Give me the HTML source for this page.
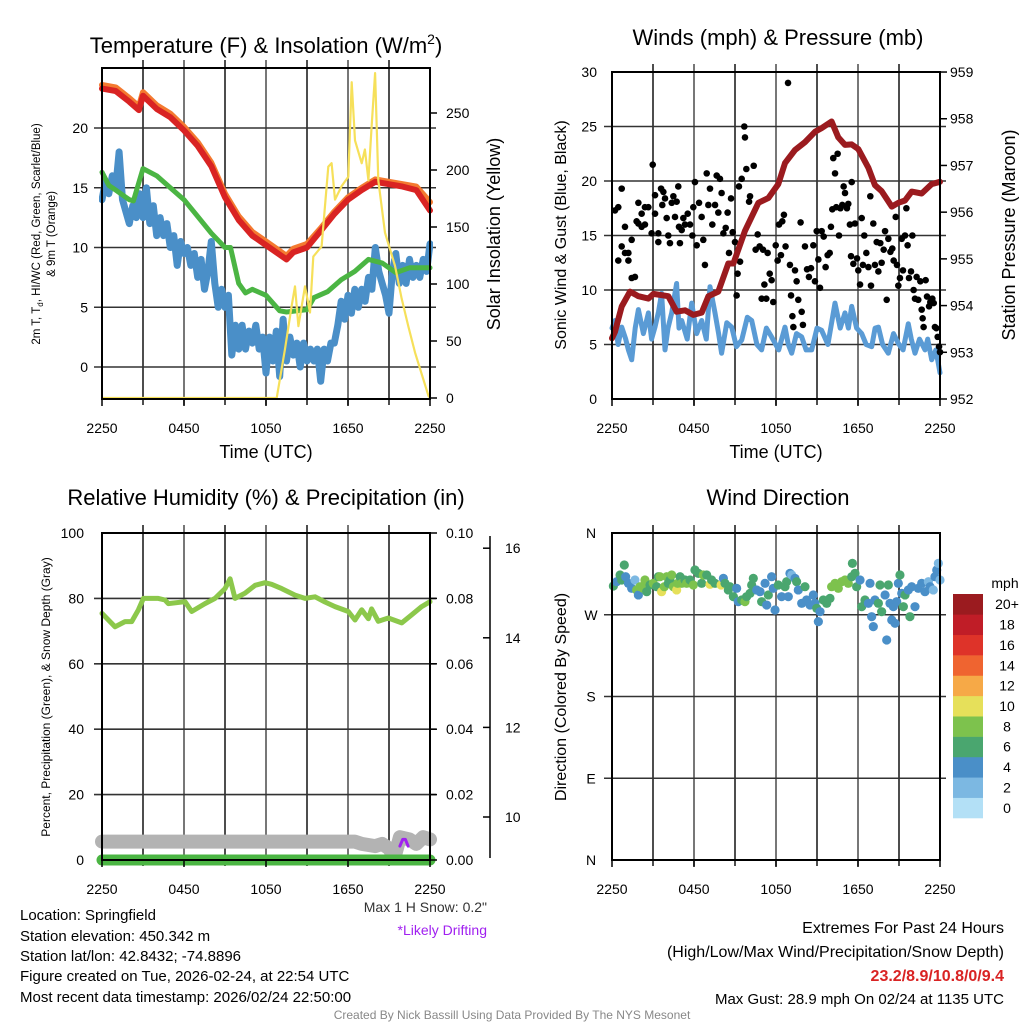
<!DOCTYPE html>
<html><head><meta charset="utf-8"><title>Mesonet Station Chart</title>
<style>
html,body{margin:0;padding:0;background:#fff;}
svg{display:block;font-family:"Liberation Sans",Arial,sans-serif;}
</style></head>
<body>
<svg id="chart" width="1024" height="1024" viewBox="0 0 1024 1024" xmlns="http://www.w3.org/2000/svg">
<rect width="1024" height="1024" fill="#fff"/>
<g id="static"></g>
<g id="marks"></g>
<g id="frames"></g>
</svg>
<script>
// ---------- DATA ----------
// Panel 1: temperatures (F) & insolation
const redT = [0,1,2,2.7,3,4,5,6,7,8,9,10,11,12,13,13.5,14,15,16,17,18,19,20,21,22,23,24];
const redV = [23.3,23.1,22.2,21.5,22.7,21.6,20.9,19.8,18.5,16.8,14.2,12.3,11.0,10.2,9.4,9.0,9.6,10.0,11.4,12.8,14.0,14.8,15.5,15.3,15.1,14.8,13.1];
const orangeV = [23.6,23.4,22.5,21.8,23.0,21.9,21.2,20.1,18.8,17.1,14.5,12.6,11.3,10.5,9.7,9.3,9.9,10.3,11.6,13.0,14.2,15.0,15.7,15.5,15.3,15.1,13.8];
const greenT = [0,0.5,1,2,2.3,3,4,5,6,7,8,9,9.4,10,10.5,11,12,13,13.5,15,15.5,16.5,17.5,18.5,19.5,20.5,21.5,22.5,24];
const greenV = [16.3,15.2,14.8,14.0,13.9,16.6,16.0,15.0,14.0,12.6,11.2,10.0,10.0,7.0,6.2,6.5,6.0,4.7,4.6,4.8,5.8,6.3,7.3,8.0,9.0,8.7,7.9,8.3,8.3];
const blueV = [14.0,15.5,14.5,16.0,15.0,18.0,14.0,13.0,12.0,13.5,12.5,14.5,12.5,15.0,12.0,13.5,11.0,12.5,11.0,12.0,10.0,11.0,8.5,10.5,9.5,10.0,8.5,9.5,7.5,9.0,6.5,8.0,10.5,7.0,5.0,6.5,5.0,6.0,1.0,3.5,1.5,3.5,1.5,3.0,2.0,3.5,1.5,2.5,-0.5,2.5,0.5,3.0,-0.8,4.0,0.5,2.5,1.0,2.0,0.0,2.0,0.5,1.5,0.5,1.5,-1.2,1.5,0.5,2.0,2.0,3.5,5.5,4.0,6.0,4.5,6.5,5.0,6.5,5.5,7.5,6.5,10.0,8.0,7.0,6.0,4.5,8.0,9.5,7.0,8.5,7.0,9.0,7.5,8.5,7.5,9.0,8.0,10.3];
const blueT = blueV.map((v,i)=>i*0.25);
const solarT = [0,12.78,13.39,13.88,14.12,14.37,14.85,15.22,15.46,16.07,16.56,16.8,17.05,17.54,18.02,18.27,18.51,19.0,19.24,19.49,19.73,19.98,20.22,20.71,21.44,21.93,22.41,22.9,23.88,24];
const solarV = [0,0,43,81,98,63,98,75,124,133,203,206,174,186,194,277,226,206,218,191,238,285,191,145,116,87,63,40,2,0];
const p1LeftTicks = [0,5,10,15,20];
const p1RightTicks = [0,50,100,150,200,250];
const timeTickLabels = ["2250","0450","1050","1650","2250"];

// Panel 2: winds & pressure
const presT = [0,0.22,0.71,1.32,1.93,2.66,3.03,4.12,4.73,5.34,5.95,6.56,7.05,7.78,8.51,8.88,9.73,10.71,11.44,12.17,12.66,13.39,14.12,14.85,15.34,16.07,16.56,17.05,17.54,18.02,18.76,19.24,19.73,20.47,20.95,21.44,21.93,22.66,23.39,24.0];
const presV = [953.3,953.44,953.98,954.30,954.2,954.15,954.25,954.2,953.87,953.9,953.8,953.85,954.2,954.3,954.9,954.9,955.6,956.2,956.3,956.6,957.05,957.33,957.5,957.72,957.8,957.94,957.6,957.44,957.45,957.35,956.95,956.58,956.45,956.12,956.2,956.25,956.44,956.4,956.6,956.65];
const windT = [0,0.22,0.45,0.71,1.0,1.2,1.44,1.7,1.93,2.3,2.66,2.9,3.15,3.4,3.63,3.88,4.1,4.37,4.73,4.9,5.1,5.5,5.83,6.2,6.56,6.9,7.17,7.54,7.8,8.02,8.4,8.76,9.1,9.49,9.9,10.22,10.6,10.95,11.3,11.68,12.2,12.66,12.9,13.15,13.5,13.88,14.2,14.61,15.0,15.34,15.8,16.32,16.7,17.05,17.3,17.54,17.9,18.27,18.6,19.0,19.25,19.49,19.8,20.22,20.6,20.95,21.3,21.68,21.9,22.17,22.5,22.9,23.1,23.39,23.7,24.0];
const windV = [6.5,7.2,5.0,6.6,5.5,4.5,3.6,6.5,8.2,6.0,7.9,5.5,6.6,8.0,9.7,4.5,6.5,7.9,10.6,6.5,7.2,5.5,8.8,6.0,7.2,5.5,10.3,7.9,6.0,4.2,7.0,6.6,4.8,5.4,7.5,7.2,5.0,4.5,6.5,5.7,4.5,6.6,5.0,4.2,6.0,5.7,4.5,4.5,6.5,6.3,5.0,8.8,6.5,7.9,6.5,8.5,6.5,6.0,5.0,4.8,6.5,6.6,5.0,4.2,6.0,5.1,4.5,6.9,5.5,4.2,5.5,4.5,5.5,3.6,4.5,2.4];
const gustT = [0.22,0.46,0.46,0.71,0.71,0.95,0.95,1.2,1.2,1.44,1.44,1.68,1.8,1.93,1.93,2.17,2.17,2.41,2.41,2.66,2.9,2.98,3.15,3.15,3.39,3.39,3.59,3.68,3.76,3.88,4.0,4.12,4.24,4.37,4.49,4.61,4.73,4.85,4.9,4.97,5.1,5.22,5.34,5.54,5.71,5.88,5.95,6.07,6.2,6.37,6.56,6.68,6.8,6.93,7.05,7.17,7.34,7.54,7.66,7.78,7.9,8.02,8.15,8.32,8.46,8.56,8.71,8.83,9.0,9.12,9.19,9.29,9.37,9.49,9.68,9.73,9.83,10.03,10.1,10.37,10.51,10.66,10.8,10.95,11.05,11.15,11.29,11.39,11.54,11.68,11.8,11.98,12.12,12.22,12.36,12.46,12.58,12.7,12.88,13.02,13.1,13.2,13.27,13.39,13.51,13.63,13.8,13.88,13.97,14.12,14.27,14.41,14.56,14.73,14.85,14.98,15.1,15.22,15.34,15.49,15.63,15.78,15.93,16.02,16.12,16.19,16.32,16.41,16.51,16.61,16.71,16.85,16.95,17.05,17.19,17.29,17.41,17.49,17.54,17.66,17.78,17.93,18.02,18.15,18.27,18.36,18.46,18.61,18.76,18.9,18.95,19.12,19.24,19.37,19.49,19.63,19.73,19.88,19.98,20.1,20.22,20.37,20.51,20.61,20.76,20.85,20.95,21.07,21.2,21.29,21.44,21.54,21.63,21.73,21.88,21.98,22.07,22.17,22.29,22.41,22.56,22.66,22.73,22.8,22.95,23.05,23.2,23.29,23.44,23.54,23.63,23.73,23.83,23.93,24.0];
const gustV = [17.3,17.6,12.7,14.0,19.3,15.8,13.4,13.4,12.7,11.1,14.6,11.2,16.3,18.0,16.1,15.8,17.0,17.6,16.0,17.6,15.2,21.5,18.7,17.0,15.2,14.4,19.3,17.8,19.0,18.4,16.6,15.0,14.3,18.0,18.6,16.7,18.1,19.5,15.8,14.3,15.5,16.6,16.0,17.0,16.0,15.0,17.6,19.9,14.1,18.0,16.7,14.6,12.3,20.7,17.8,19.3,16.0,17.8,20.5,17.1,20.2,18.9,15.2,15.7,17.1,13.4,18.4,15.3,14.4,9.5,11.5,19.5,12.6,20.2,25.0,24.0,21.1,18.1,18.6,21.4,13.7,15.1,14.0,9.2,13.7,10.5,9.2,13.4,11.5,10.9,8.9,14.1,12.7,16.0,13.2,16.3,16.9,14.0,29.0,12.3,9.5,7.6,6.6,11.8,10.8,9.1,16.2,8.0,6.8,14.0,11.9,11.2,12.0,14.1,10.8,15.4,12.8,10.2,15.4,14.9,12.1,13.2,13.4,15.8,17.4,22.1,20.7,17.6,22.5,15.0,17.5,17.8,19.5,18.9,17.5,17.9,16.0,13.1,19.9,12.4,16.1,12.9,11.8,10.5,16.6,12.3,15.0,13.4,12.1,18.6,10.4,16.1,12.3,14.4,11.7,14.3,12.5,13.7,15.4,9.1,14.7,13.5,13.8,12.7,16.7,12.3,10.4,11.1,14.7,11.8,15.0,17.5,14.1,11.1,11.7,15.0,10.0,9.2,11.2,9.1,10.8,8.2,7.4,6.6,10.9,9.4,8.5,8.9,9.2,8.8,6.6,6.5,5.7,4.8,4.3];
const p2LeftTicks = [0,5,10,15,20,25,30];
const p2RightTicks = [952,953,954,955,956,957,958,959];

// Panel 3: RH, precip, snow depth
const rhT = [0,0.95,1.68,2.17,2.66,3.03,4.12,4.61,4.85,6.07,6.56,7.54,8.27,9.0,9.37,9.73,10.46,11.2,11.93,12.41,13.15,14.12,14.85,15.59,16.32,17.05,18.02,18.51,19.0,19.49,19.73,20.22,20.95,21.93,22.66,23.39,24.0];
const rhV = [75.4,71.3,72.9,72.9,76.5,80,80,79.5,78.4,79,76,78.4,80,83,86,80,81.6,84,84.8,84.3,83,81,80,80.5,78.9,77.5,76,73.4,76.5,73.8,76.8,73,74,72.5,75,77.5,79];
const precipT = [0,24];
const precipV = [0,0];
const snowT = [0,6,12,18.5,19,20,20.5,21,21.4,21.8,22.5,23,23.5,24];
const snowV = [9.45,9.45,9.45,9.45,9.4,9.35,9.4,9.3,9.1,9.55,9.5,9.4,9.55,9.5];
const driftT = [21.8,22.0,22.2,22.4];
const driftV = [9.35,9.5,9.5,9.35];
const p3LeftTicks = [0,20,40,60,80,100];
const p3RightTicks = ["0.00","0.02","0.04","0.06","0.08","0.10"];
const snowTicks = [10,12,14,16];

// Panel 4: wind direction (deg) colored by speed (mph)
const dirT = [0.10,0.34,0.59,0.71,0.90,1.0,1.2,1.44,1.68,1.8,1.93,2.05,2.29,2.41,2.54,2.78,3.02,3.27,3.39,3.51,3.63,3.83,4.0,4.12,4.24,4.37,4.49,4.73,4.8,4.98,5.1,5.34,5.46,5.71,5.95,6.07,6.32,6.56,6.68,6.93,7.17,7.29,7.54,7.98,8.15,8.27,8.51,8.63,8.88,9.12,9.24,9.49,9.73,9.85,10.1,10.22,10.34,10.59,10.83,10.95,11.2,11.32,11.44,11.68,11.8,11.93,12.17,12.41,12.66,12.78,12.9,13.02,13.15,13.39,13.51,13.63,13.88,14.12,14.24,14.49,14.73,14.85,14.98,15.1,15.22,15.46,15.71,15.95,16.07,16.32,16.56,16.8,17.05,17.29,17.54,17.59,17.78,17.9,18.15,18.27,18.51,18.76,18.88,19.0,19.12,19.24,19.49,19.61,19.73,19.98,20.1,20.22,20.34,20.47,20.59,20.71,20.83,20.95,21.07,21.2,21.32,21.44,21.68,21.8,21.93,22.17,22.41,22.66,22.9,23.15,23.27,23.51,23.63,23.76,23.88,24.0];
const dirV = [301.7,306.4,313.8,308.3,324.8,311.9,304.6,299.1,308.3,297.3,291.8,300.9,299.1,308.3,295.4,302.8,304.6,300.9,311.9,311.9,295.4,300.9,311.9,304.6,308.3,313.8,300.9,297.3,304.6,311.9,304.6,308.3,304.6,308.3,302.8,319.3,315.6,304.6,313.8,313.8,303.5,308.3,304.6,302.8,310.1,304.6,297.3,300.9,289.9,299.1,284.4,286.3,284.4,289.9,293.6,302.8,310.1,297.3,295.4,284.4,304.6,280.7,291.8,311.9,299.1,275.2,302.8,289.9,300.9,306.4,289.9,315.6,313.8,310.1,306.4,297.3,282.6,300.9,286.3,280.7,291.8,282.6,277.1,262.4,273.4,286.3,282.6,288.1,300.9,304.6,299.1,306.4,308.3,304.6,311.9,326.6,315.6,300.9,308.3,278.9,286.3,282.6,304.6,267.9,256.9,286.3,282.6,302.8,273.4,291.8,242.2,302.8,282.6,264.2,278.9,260.6,284.4,304.6,313.8,293.6,278.9,291.8,297.3,267.9,300.9,278.9,299.1,304.6,295.4,306.4,300.9,297.3,311.9,319.3,326.6,308.3];
const dirSpd = [7,5,7,7,7,5,5,5,3,9,5,9,9,9,7,7,9,7,7,9,11,9,9,7,7,9,9,11,9,7,9,7,9,7,9,7,7,7,9,7,11,7,7,11,5,7,7,7,7,5,5,7,9,7,7,7,7,5,5,7,5,5,7,5,5,5,7,5,7,7,5,5,3,5,7,5,5,7,5,5,5,5,7,5,5,7,7,7,9,9,9,9,9,9,7,7,7,7,5,7,7,5,5,5,5,5,7,7,7,5,5,7,5,5,5,5,5,5,7,5,7,7,5,7,5,5,5,5,5,3,5,3,5,5,3,3];
const dirLabels = ["N","E","S","W","N"];
const speedColors = ["#b3e0f6","#7cb8e2","#4a8fc8","#4aa66f","#7dc24d","#e6e05a","#f6a947","#ef6430","#de3329","#c01d27","#9b1b1f"];
const speedLabels = ["0","2","4","6","8","10","12","14","16","18","20+"];

// ---------- GEOMETRY ----------
const P1={x0:102,x1:430,y0:68,y1:399}, P2={x0:612,x1:940,y0:72,y1:399};
const P3={x0:102,x1:430,y0:533,y1:860}, P4={x0:612,x1:940,y0:533,y1:860};
const tx=(P,t)=>P.x0+t/24*(P.x1-P.x0);
const y1L=v=>367-v*11.95, y1R=v=>398-v*1.14;
const y2L=v=>399-v*10.9, y2R=p=>399-(p-952)*46.71;
const y3L=v=>860-v*3.27, y3R=v=>860-v*3270, y3S=v=>817-(v-10)*44.8;
const y4=d=>860-d*0.9083;

const NS="http://www.w3.org/2000/svg";
const gS=document.getElementById('static'), gM=document.getElementById('marks'), gF=document.getElementById('frames');
function mk(tag,attrs,parent){const e=document.createElementNS(NS,tag);for(const k in attrs)e.setAttribute(k,attrs[k]);parent.appendChild(e);return e;}
function txt(s,x,y,size,anchor,parent,extra){const e=mk('text',Object.assign({x:x,y:y,'font-size':size,'text-anchor':anchor||'middle',fill:'#000'},extra||{}),parent);e.textContent=s;return e;}
function path(ts,vs,P,fy){return ts.map((t,i)=>(i?'L':'M')+tx(P,t).toFixed(1)+','+fy(vs[i]).toFixed(1)).join('');}

// ---------- GRIDS & AXES ----------
function grid(P,hys,name){
  const g=mk('g',{},gS);
  
  
  for(let h=3;h<24;h+=3){const x=tx(P,h);mk('line',{x1:x,x2:x,y1:P.y0-8,y2:P.y1+6,stroke:(h%6==0)?'#555':'#222','stroke-width':1.6},g);}
  hys.forEach(y=>mk('line',{x1:P.x0-8,x2:P.x1+6,y1:y,y2:y,stroke:'#333','stroke-width':1.6},g));
  const f=mk('rect',{x:P.x0,y:P.y0,width:P.x1-P.x0,height:P.y1-P.y0,fill:'none',stroke:'#000','stroke-width':2},gF);
  
  
  const xl=mk('g',{},gF);
  
  
  timeTickLabels.forEach((s,i)=>{const x=tx(P,i*6);mk('line',{x1:x,x2:x,y1:P.y1,y2:P.y1+7,stroke:'#000','stroke-width':1.5},xl);txt(s,x,P.y1+34,14,'middle',xl);});
}
grid(P1,[0,5,10,15,20].map(y1L),'temp-panel');
grid(P2,[5,10,15,20,25].map(y2L),'wind-panel');
grid(P3,[20,40,60,80].map(y3L),'rh-panel');
grid(P4,[90,180,270].map(y4),'direction-panel');

// tick labels
const tl1=mk('g',{},gF);


p1LeftTicks.forEach(v=>txt(String(v),88,y1L(v)+5,14,'end',tl1));
const tr1=mk('g',{},gF);


p1RightTicks.forEach(v=>{mk('line',{x1:430,x2:437,y1:y1R(v),y2:y1R(v),stroke:'#000','stroke-width':1.5},tr1);txt(String(v),446,y1R(v)+5,14,'start',tr1);});
const tl2=mk('g',{},gF);


p2LeftTicks.forEach(v=>txt(String(v),597,y2L(v)+5,14,'end',tl2));
const tr2=mk('g',{},gF);


p2RightTicks.forEach(v=>{mk('line',{x1:940,x2:947,y1:y2R(v),y2:y2R(v),stroke:'#000','stroke-width':1.5},tr2);txt(String(v),950,y2R(v)+5,14,'start',tr2);});
const tl3=mk('g',{},gF);


p3LeftTicks.forEach(v=>txt(String(v),84,y3L(v)+5,14,'end',tl3));
const tr3=mk('g',{},gF);


p3RightTicks.forEach(s=>{const y=y3R(parseFloat(s));mk('line',{x1:430,x2:437,y1:y,y2:y,stroke:'#000','stroke-width':1.5},tr3);txt(s,446,y+5,14,'start',tr3);});
const sa=mk('g',{},gF);


mk('line',{x1:490,x2:490,y1:536,y2:858,stroke:'#000','stroke-width':1.5},sa);
snowTicks.forEach(v=>{mk('line',{x1:483,x2:490,y1:y3S(v),y2:y3S(v),stroke:'#000','stroke-width':1.5},sa);txt(String(v),505,y3S(v)+5,14,'start',sa);});
const tl4=mk('g',{},gF);


dirLabels.forEach((s,i)=>txt(s,591,y4(i*90)+5,14,'middle',tl4));

// ---------- MARKS ----------
function line(ts,vs,P,fy,color,w,name){
  const e=mk('path',{d:path(ts,vs,P,fy),fill:'none',stroke:color,'stroke-width':w,'stroke-linejoin':'round','stroke-linecap':'round'},gM);
  
  
  return e;
}
const defs=mk('defs',{},gM);
[['c1',P1],['c2',P2],['c3',P3],['c4',P4]].forEach(([id,P])=>mk('rect',{id:id,x:P.x0-3,y:P.y0,width:P.x1-P.x0+6,height:P.y1-P.y0+3},mk('clipPath',{id:id+'p'},defs)));

line(blueT,blueV,P1,y1L,'#4a8fc8',7,'wind-chill-line').setAttribute('clip-path','url(#c1p)');
line(greenT,greenV,P1,y1L,'#4bb543',5,'dewpoint-line');
line(redT,orangeV,P1,y1L,'#f47a30',6,'temp-9m-line');
line(redT,redV,P1,y1L,'#d92323',6,'temp-2m-line');
line(solarT,solarV,P1,y1R,'#f6e05a',2.2,'solar-insolation-line').setAttribute('clip-path','url(#c1p)');

line(windT,windV,P2,y2L,'#5a9bd5',5,'sonic-wind-line');
const gg=mk('g',{},gM);


gustT.forEach((t,i)=>{
  const c=mk('circle',{cx:tx(P2,t),cy:y2L(gustV[i]),r:3.3,fill:'#000'},gg);
  
  
});
line(presT,presV,P2,y2R,'#9b1b1f',6,'pressure-line');

line(rhT,rhV,P3,y3L,'#8cc84b',5,'relative-humidity-line');
line(snowT,snowV,P3,y3S,'#b3b3b3',14,'snow-depth-line');
line(precipT,precipV,P3,y3L,'#4bb543',11,'precipitation-line');
line(driftT,driftV,P3,y3S,'#a020f0',3,'drifting-snow-line');

const dg=mk('g',{},gM);


dirT.forEach((t,i)=>{
  const ci=Math.min(10,Math.floor(dirSpd[i]/2));
  const c=mk('circle',{cx:tx(P4,t),cy:y4(dirV[i]),r:4.6,fill:speedColors[ci]},dg);
  
  
});

// colorbar
const cb=mk('g',{},gF);


txt('mph',1005,588,14,'middle',cb);
const bh=(818-594)/11;
speedColors.forEach((c,i)=>{const y=818-(i+1)*bh;mk('rect',{x:953,y:y,width:30,height:bh+0.3,fill:c},cb);txt(speedLabels[i],1007,y+bh/2+5,14,'middle',cb);});
</script>

<svg style="position:absolute;left:0;top:0" width="1024" height="1024" font-family="Liberation Sans, Arial, sans-serif">
<text x="266" y="53" font-size="22" text-anchor="middle">Temperature (F) &amp; Insolation (W/m<tspan font-size="14" dy="-9">2</tspan><tspan dy="9">)</tspan></text>
<text x="778" y="45" font-size="22" text-anchor="middle">Winds (mph) &amp; Pressure (mb)</text>
<text x="266" y="505" font-size="22" text-anchor="middle">Relative Humidity (%) &amp; Precipitation (in)</text>
<text x="778" y="505" font-size="22" text-anchor="middle">Wind Direction</text>

<text x="266" y="458" font-size="18" text-anchor="middle">Time (UTC)</text>
<text x="776" y="458" font-size="18" text-anchor="middle">Time (UTC)</text>

<text transform="translate(40,234) rotate(-90)" font-size="11.5" text-anchor="middle">2m T, T<tspan font-size="8" dy="3">d</tspan><tspan dy="-3">, HI/WC (Red, Green, Scarlet/Blue)</tspan></text>
<text transform="translate(55,234) rotate(-90)" font-size="11.5" text-anchor="middle">&amp; 9m T (Orange)</text>
<text transform="translate(500,234) rotate(-90)" font-size="18" text-anchor="middle">Solar Insolation (Yellow)</text>
<text transform="translate(566,235) rotate(-90)" font-size="16" text-anchor="middle">Sonic Wind &amp; Gust (Blue, Black)</text>
<text transform="translate(1015,235) rotate(-90)" font-size="18" text-anchor="middle">Station Pressure (Maroon)</text>
<text transform="translate(50,697) rotate(-90)" font-size="12" text-anchor="middle">Percent, Precipitation (Green), &amp; Snow Depth (Gray)</text>
<text transform="translate(566,697) rotate(-90)" font-size="16" text-anchor="middle">Direction (Colored By Speed)</text>

<text x="487" y="912" font-size="14" text-anchor="end" fill="#333">Max 1 H Snow: 0.2"</text>
<text x="487" y="935" font-size="14" text-anchor="end" fill="#a020f0">*Likely Drifting</text>

<g font-size="15">
<text x="20" y="920">Location: Springfield</text>
<text x="20" y="941">Station elevation: 450.342 m</text>
<text x="20" y="961">Station lat/lon: 42.8432; -74.8896</text>
<text x="20" y="981">Figure created on Tue, 2026-02-24, at 22:54 UTC</text>
<text x="20" y="1002">Most recent data timestamp: 2026/02/24 22:50:00</text>
</g>
<g font-size="16" text-anchor="end">
<text x="1004" y="933">Extremes For Past 24 Hours</text>
<text x="1004" y="957">(High/Low/Max Wind/Precipitation/Snow Depth)</text>
<text x="1004" y="981" font-weight="bold" fill="#d92323">23.2/8.9/10.8/0/9.4</text>
<text x="1004" y="1004" font-size="15">Max Gust: 28.9 mph On 02/24 at 1135 UTC</text>
</g>
<text x="512" y="1019" font-size="12" text-anchor="middle" fill="#888">Created By Nick Bassill Using Data Provided By The NYS Mesonet</text>
</svg>
</body></html>
